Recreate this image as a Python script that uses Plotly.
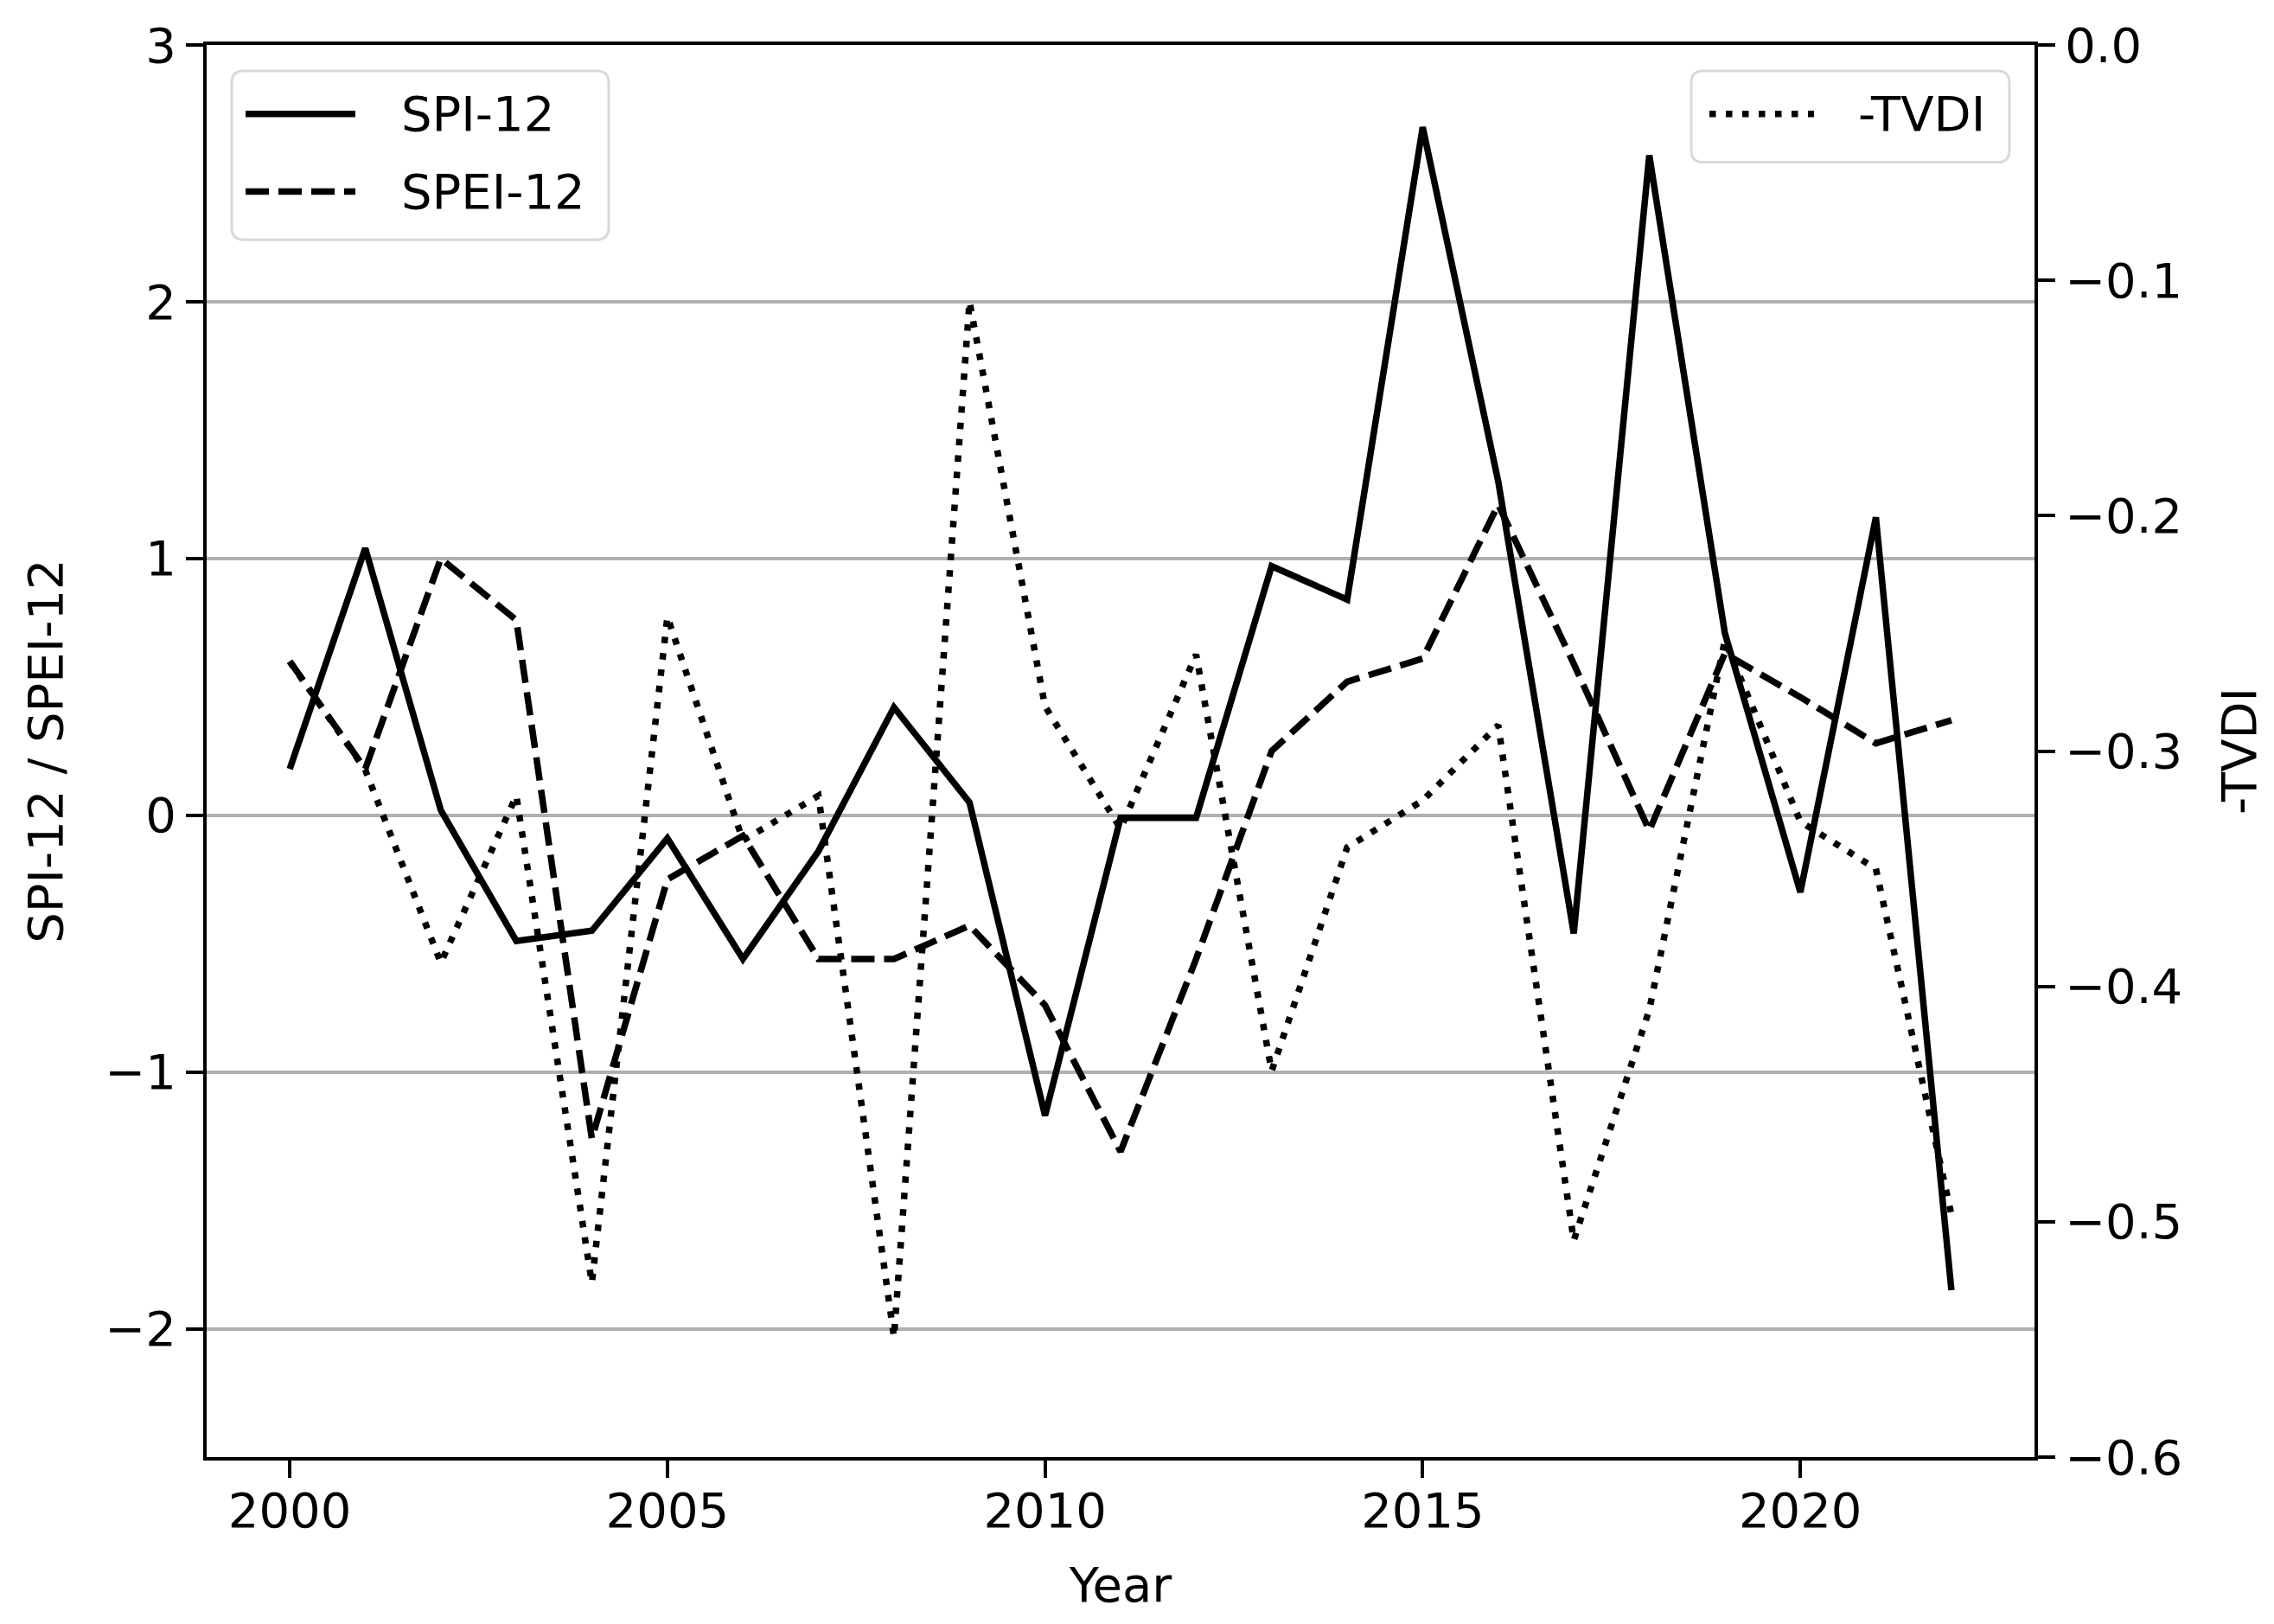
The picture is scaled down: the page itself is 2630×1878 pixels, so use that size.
import plotly.graph_objects as go

years = list(range(2000, 2023))
spi12 = [0.18, 1.04, 0.02, -0.49, -0.45, -0.09, -0.56, -0.14, 0.42, 0.05, -1.17, -0.01,
         -0.01, 0.97, 0.84, 2.68, 1.30, -0.46, 2.57, 0.71, -0.30, 1.16, -1.85]
spei12 = [0.60, 0.18, 1.00, 0.76, -1.26, -0.25, -0.08, -0.56, -0.56, -0.43, -0.74, -1.31,
          -0.56, 0.25, 0.52, 0.61, 1.21, 0.59, -0.06, 0.63, 0.46, 0.28, 0.37]
neg_tvdi = [-0.262, -0.308, -0.390, -0.319, -0.526, -0.243, -0.338, -0.319, -0.549, -0.109,
            -0.281, -0.333, -0.259, -0.436, -0.341, -0.321, -0.289, -0.508, -0.410, -0.253,
            -0.330, -0.350, -0.497]

x_ticks = [2000, 2005, 2010, 2015, 2020]
y1_ticks = [-2, -1, 0, 1, 2, 3]
y2_ticks = [-0.6, -0.5, -0.4, -0.3, -0.2, -0.1, 0.0]

FONT = "DejaVu Sans"
FS = 56
LW = 7.5
DASH = "27px,11px"
DOT = "7.5px,11.5px"

OFF = 8  # default page body margin
W, H = 2630 - OFF, 1878 - OFF
ML, MR, MT, MB = 239 - OFF, 277, 47 - OFF, 193
PW, PH = W - ML - MR, H - MT - MB


def px(xp):
    return (xp - OFF - ML) / PW


def py(yp):
    return 1 - (yp - OFF - MT) / PH


fig = go.Figure()
fig.add_trace(go.Scatter(x=years, y=spi12, mode="lines", name="SPI-12",
                         line=dict(color="black", width=LW)))
fig.add_trace(go.Scatter(x=years, y=spei12, mode="lines", name="SPEI-12",
                         line=dict(color="black", width=LW, dash=DASH)))
fig.add_trace(go.Scatter(x=years, y=neg_tvdi, mode="lines", name="-TVDI", yaxis="y2",
                         line=dict(color="black", width=LW, dash=DOT)))

axis_common = dict(showline=True, linecolor="black", linewidth=4, ticks="outside",
                   ticklen=20, tickwidth=4, tickcolor="black", zeroline=False,
                   tickfont=dict(family=FONT, size=FS, color="black"))


def rounded_box(x0, y0, x1, y1, r=14):
    X0, X1 = px(x0), px(x1)
    Y0, Y1 = py(y0), py(y1)
    rx, ry = r / PW, r / PH
    return (f"M{X0+rx},{Y0} L{X1-rx},{Y0} Q{X1},{Y0} {X1},{Y0-ry} "
            f"L{X1},{Y1+ry} Q{X1},{Y1} {X1-rx},{Y1} L{X0+rx},{Y1} "
            f"Q{X0},{Y1} {X0},{Y1+ry} L{X0},{Y0-ry} Q{X0},{Y0} {X0+rx},{Y0} Z")


legend_entries = [
    # (label, dash, line x0, line x1, text x, y) in page pixels
    ("SPI-12", "solid", 284, 411, 462, 127),
    ("SPEI-12", DASH, 284, 411, 462, 217),
    ("-TVDI", DOT, 1977, 2098, 2147, 127),
]

shapes = [
    dict(type="path", xref="paper", yref="paper", path=rounded_box(268, 77, 704, 273),
         line=dict(color="#d9d9d9", width=3), fillcolor="rgba(255,255,255,0.8)", layer="above"),
    dict(type="path", xref="paper", yref="paper", path=rounded_box(1956, 77, 2324, 183),
         line=dict(color="#d9d9d9", width=3), fillcolor="rgba(255,255,255,0.8)", layer="above"),
]
annotations = []
for label, dash, lx0, lx1, tx, ty in legend_entries:
    shapes.append(dict(type="line", xref="paper", yref="paper", x0=px(lx0), x1=px(lx1),
                       y0=py(ty), y1=py(ty), layer="above",
                       line=dict(color="black", width=LW, dash=dash)))
    annotations.append(dict(xref="paper", yref="paper", x=px(tx), y=py(ty), text=label,
                            showarrow=False, xanchor="left", yanchor="middle",
                            font=dict(family=FONT, size=FS, color="black")))

fig.update_layout(
    width=W, height=H,
    margin=dict(l=ML, r=MR, t=MT, b=MB, pad=0),
    plot_bgcolor="white", paper_bgcolor="white",
    font=dict(family=FONT, size=FS, color="black"),
    showlegend=False,
    xaxis=dict(range=[1998.9, 2023.1], tickvals=x_ticks, mirror=True, showgrid=False,
               ticklabelstandoff=-10,
               title=dict(text="Year", font=dict(family=FONT, size=FS), standoff=36),
               **axis_common),
    yaxis=dict(range=[-2.5, 3], tickvals=y1_ticks, showgrid=True, gridcolor="#b0b0b0",
               gridwidth=3.5,
               title=dict(text="SPI-12 / SPEI-12", font=dict(family=FONT, size=FS), standoff=32),
               **axis_common),
    yaxis2=dict(range=[-0.6, 0.0], tickvals=y2_ticks, tickformat=".1f", overlaying="y",
                side="right", showgrid=False,
                title=dict(text="-TVDI", font=dict(family=FONT, size=FS), standoff=48),
                **axis_common),
    shapes=shapes,
    annotations=annotations,
)

fig.write_html("out.html")
